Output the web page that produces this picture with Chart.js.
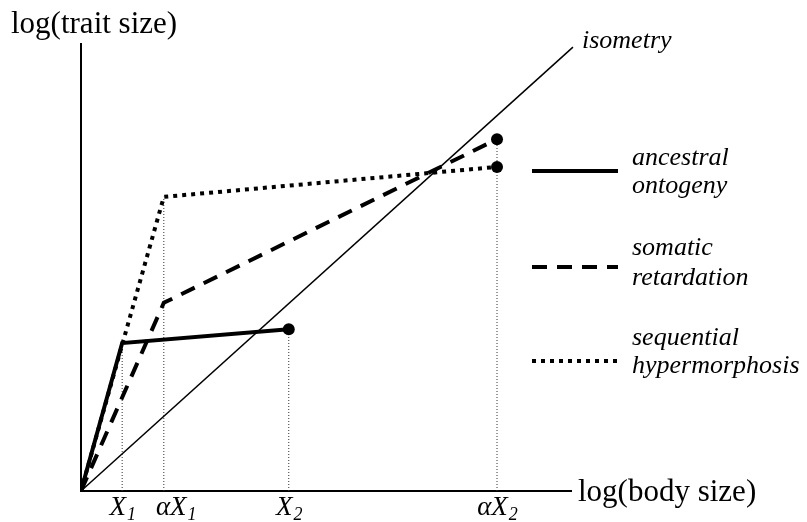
<!DOCTYPE html>
<html>
<head>
<meta charset="utf-8">
<script src="https://cdn.jsdelivr.net/npm/chart.js@4.4.1/dist/chart.umd.min.js"></script>
<style>
  html, body { margin: 0; padding: 0; background: #fff; }
  #wrap { width: 807px; height: 522px; }
</style>
</head>
<body>
<div id="wrap"><canvas id="chart" width="807" height="522"></canvas></div>
<script>
// Marks on the body-size axis
const xTickValues = [0.84, 1.69, 4.24, 8.49];
const xTickBase = ['X', 'αX', 'X', 'αX'];
const xTickSub = ['1', '1', '2', '2'];

// Ontogenies (log body size, log trait size)
const ancestralX = [0, 0.84, 4.24];
const ancestralY = [0, 3.31, 3.62];
const somaticX = [0, 1.69, 8.49];
const somaticY = [0, 4.21, 7.87];
const hyperX = [0, 1.69, 8.49];
const hyperY = [0, 6.58, 7.25];

// Isometry reference line
const isoX = [0, 10.04];
const isoY = [0, 9.93];

// Thin drop lines from switch / end points down to the x axis
const dropX = [0.84, 1.69, 4.24, 8.49];
const dropTop = [3.31, 6.58, 3.62, 7.87];

const seriesNames = ['ancestral ontogeny', 'somatic retardation', 'sequential hypermorphosis'];
const legendLines = [['ancestral', 'ontogeny'], ['somatic', 'retardation'], ['sequential', 'hypermorphosis']];

const SERIF = '"Liberation Serif", "DejaVu Serif", serif';

function points(xs, ys) {
  return xs.map((x, i) => ({ x: x, y: ys[i] }));
}

// End of each ontogeny gets a filled dot
function endDots(xs) {
  return xs.map((_, i) => (i === xs.length - 1 ? 6 : 0));
}

const seriesStyle = [
  { dash: [], width: 4 },
  { dash: [15, 10], width: 4 },
  { dash: [4, 5], width: 4 }
];

const datasets = [];

datasets.push({
  label: seriesNames[0],
  data: points(ancestralX, ancestralY),
  showLine: true,
  borderColor: '#000',
  borderWidth: seriesStyle[0].width,
  borderDash: seriesStyle[0].dash,
  pointRadius: endDots(ancestralX),
  pointBackgroundColor: '#000',
  pointBorderWidth: 0,
  order: 1
});
datasets.push({
  label: seriesNames[1],
  data: points(somaticX, somaticY),
  showLine: true,
  borderColor: '#000',
  borderWidth: seriesStyle[1].width,
  borderDash: seriesStyle[1].dash,
  pointRadius: endDots(somaticX),
  pointBackgroundColor: '#000',
  pointBorderWidth: 0,
  order: 2
});
datasets.push({
  label: seriesNames[2],
  data: points(hyperX, hyperY),
  showLine: true,
  borderColor: '#000',
  borderWidth: seriesStyle[2].width,
  borderDash: seriesStyle[2].dash,
  pointRadius: endDots(hyperX),
  pointBackgroundColor: '#000',
  pointBorderWidth: 0,
  order: 3
});
datasets.push({
  label: 'isometry',
  data: points(isoX, isoY),
  showLine: true,
  borderColor: '#000',
  borderWidth: 1.5,
  pointRadius: 0,
  clip: false,
  order: 4
});
dropX.forEach((x, i) => {
  datasets.push({
    label: 'drop' + i,
    data: [{ x: x, y: 0 }, { x: x, y: dropTop[i] }],
    showLine: true,
    borderColor: '#333',
    borderWidth: 1,
    borderDash: [1, 2],
    pointRadius: 0,
    order: 5
  });
});

// Axis names, tick labels with subscripts, isometry label and the legend
const annotations = {
  id: 'annotations',
  afterDraw(chart) {
    const ctx = chart.ctx;
    const xScale = chart.scales.x;
    const area = chart.chartArea;
    ctx.save();
    ctx.fillStyle = '#000';
    ctx.textBaseline = 'alphabetic';
    ctx.textAlign = 'left';

    // axis titles
    ctx.font = '31px ' + SERIF;
    ctx.fillText('log(trait size)', 11, 33);
    ctx.fillText('log(body size)', area.right + 7, 501);

    // x tick labels, pushed right when they would crowd the previous one
    let prevEnd = -Infinity;
    xTickValues.forEach((v, i) => {
      const px = xScale.getPixelForValue(v);
      ctx.font = 'italic 27px ' + SERIF;
      const wb = ctx.measureText(xTickBase[i]).width;
      ctx.font = 'italic 18px ' + SERIF;
      const ws = ctx.measureText(xTickSub[i]).width;
      let start = px - (wb + ws) / 2;
      start = Math.max(start, prevEnd + 20);
      ctx.font = 'italic 27px ' + SERIF;
      ctx.fillText(xTickBase[i], start, 515);
      ctx.font = 'italic 18px ' + SERIF;
      ctx.fillText(xTickSub[i], start + wb + 1, 520);
      prevEnd = start + wb + ws + 1;
    });

    // isometry label
    ctx.font = 'italic 26px ' + SERIF;
    ctx.fillText('isometry', 582, 48);

    // legend
    const rows = [
      { lineY: 171, b1: 165, b2: 193 },
      { lineY: 267, b1: 255, b2: 285 },
      { lineY: 361, b1: 345, b2: 373 }
    ];
    rows.forEach((r, i) => {
      ctx.strokeStyle = '#000';
      ctx.lineWidth = seriesStyle[i].width;
      ctx.setLineDash(seriesStyle[i].dash);
      ctx.lineCap = 'butt';
      ctx.beginPath();
      ctx.moveTo(532, r.lineY);
      ctx.lineTo(618, r.lineY);
      ctx.stroke();
      ctx.setLineDash([]);
      ctx.font = 'italic 26px ' + SERIF;
      ctx.fillText(legendLines[i][0], 632, r.b1);
      ctx.fillText(legendLines[i][1], 632, r.b2);
    });
    ctx.restore();
  }
};

new Chart(document.getElementById('chart'), {
  type: 'scatter',
  data: { datasets: datasets },
  options: {
    responsive: false,
    animation: false,
    devicePixelRatio: 1,
    layout: { padding: { left: 81, right: 236, top: 44, bottom: 31 } },
    plugins: {
      legend: { display: false },
      tooltip: { enabled: false }
    },
    scales: {
      x: {
        type: 'linear',
        min: 0,
        max: 10,
        grid: { display: false, drawTicks: false, tickLength: 0 },
        border: { display: true, color: '#000', width: 2 },
        ticks: { display: false, padding: 0 }
      },
      y: {
        type: 'linear',
        min: 0,
        max: 10,
        grid: { display: false, drawTicks: false, tickLength: 0 },
        border: { display: true, color: '#000', width: 2 },
        ticks: { display: false, padding: 0 }
      }
    }
  },
  plugins: [annotations]
});
</script>
</body>
</html>
